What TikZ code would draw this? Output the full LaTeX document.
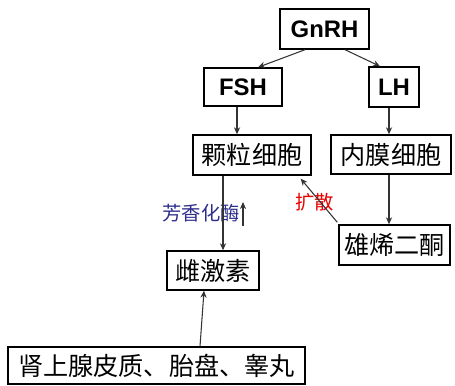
\documentclass[tikz,border=0pt]{standalone}
\usepackage{fontspec}
\setmainfont{Liberation Sans}
\newfontfamily\cjk{Noto Sans CJK SC}
\usetikzlibrary{calc,arrows.meta}
\definecolor{labblue}{RGB}{45,45,140}
\definecolor{labred}{RGB}{230,0,0}
\tikzset{
  box/.style={draw=black, line width=0.8pt, fill=white, inner sep=0pt, font=\cjk\fontsize{14.3}{16}\selectfont},
  latbox/.style={box, font=\bfseries\fontsize{13.6}{16}\selectfont},
  arr/.style={draw=black!80, line width=0.6pt, -{Stealth[length=4pt,width=3.5pt]}},
}
\begin{document}
\begin{tikzpicture}[x=0.02cm,y=-0.02cm]
\useasboundingbox (0,0) rectangle (455,385);
\node[latbox, minimum width=89*0.02cm, minimum height=40*0.02cm] (gnrh) at (324.5,29) {GnRH};
\node[latbox, minimum width=78*0.02cm, minimum height=38*0.02cm] (fsh) at (243,87) {FSH};
\node[latbox, minimum width=50*0.02cm, minimum height=40*0.02cm] (lh) at (394,87) {LH};
\node[box, minimum width=118*0.02cm, minimum height=40*0.02cm] (kl) at (252,155) {颗粒细胞};
\node[box, minimum width=120*0.02cm, minimum height=39*0.02cm] (nm) at (391,154.5) {内膜细胞};
\node[box, minimum width=111*0.02cm, minimum height=40*0.02cm] (xx) at (394.5,245) {雄烯二酮};
\node[box, minimum width=92*0.02cm, minimum height=39*0.02cm] (cj) at (213,270.5) {雌激素};
\node[box, minimum width=297*0.02cm, minimum height=37*0.02cm] (sx) at (156.5,365.5) {肾上腺皮质、胎盘、睾丸};

\node[font=\cjk\fontsize{11}{13}\selectfont, text=labblue, inner sep=0pt] (fx) at (201,213) {芳香化酶};
\node[font=\cjk\fontsize{11}{13}\selectfont, text=labred, inner sep=0pt] (ks) at (314.5,202.5) {扩散};

\coordinate (s1) at ($(fsh.south)+(-6,0)$);
\coordinate (s2) at ($(lh.south)+(-5,0)$);
\coordinate (s3) at ($(kl.south)+(-29,0)$);
\coordinate (s4) at ($(nm.south)+(-2,0)$);

\draw[arr] ($(gnrh.south)+(-19.5,0)$) -- ($(fsh.north)+(15,0)$);
\draw[arr] ($(gnrh.south)+(20.5,0)$) -- ($(lh.north)+(-14,0)$);
\draw[arr] (s1) -- (s1 |- kl.north);
\draw[arr] (s2) -- (s2 |- nm.north);
\draw[arr] (s3) -- (s3 |- cj.north);
\draw[arr] (s4) -- (s4 |- xx.north);
\draw[arr] ($(xx.north west)+(-1,-2)$) -- ($(kl.south east)+(-11,3)$);
\coordinate (fa1) at (243,226);
\coordinate (fa2) at (243,202);
\draw[arr] (fa1) -- (fa2);
\draw[arr] ($(sx.north)+(43.5,0)$) -- ($(cj.south)+(-9,0)$);
\end{tikzpicture}
\end{document}
